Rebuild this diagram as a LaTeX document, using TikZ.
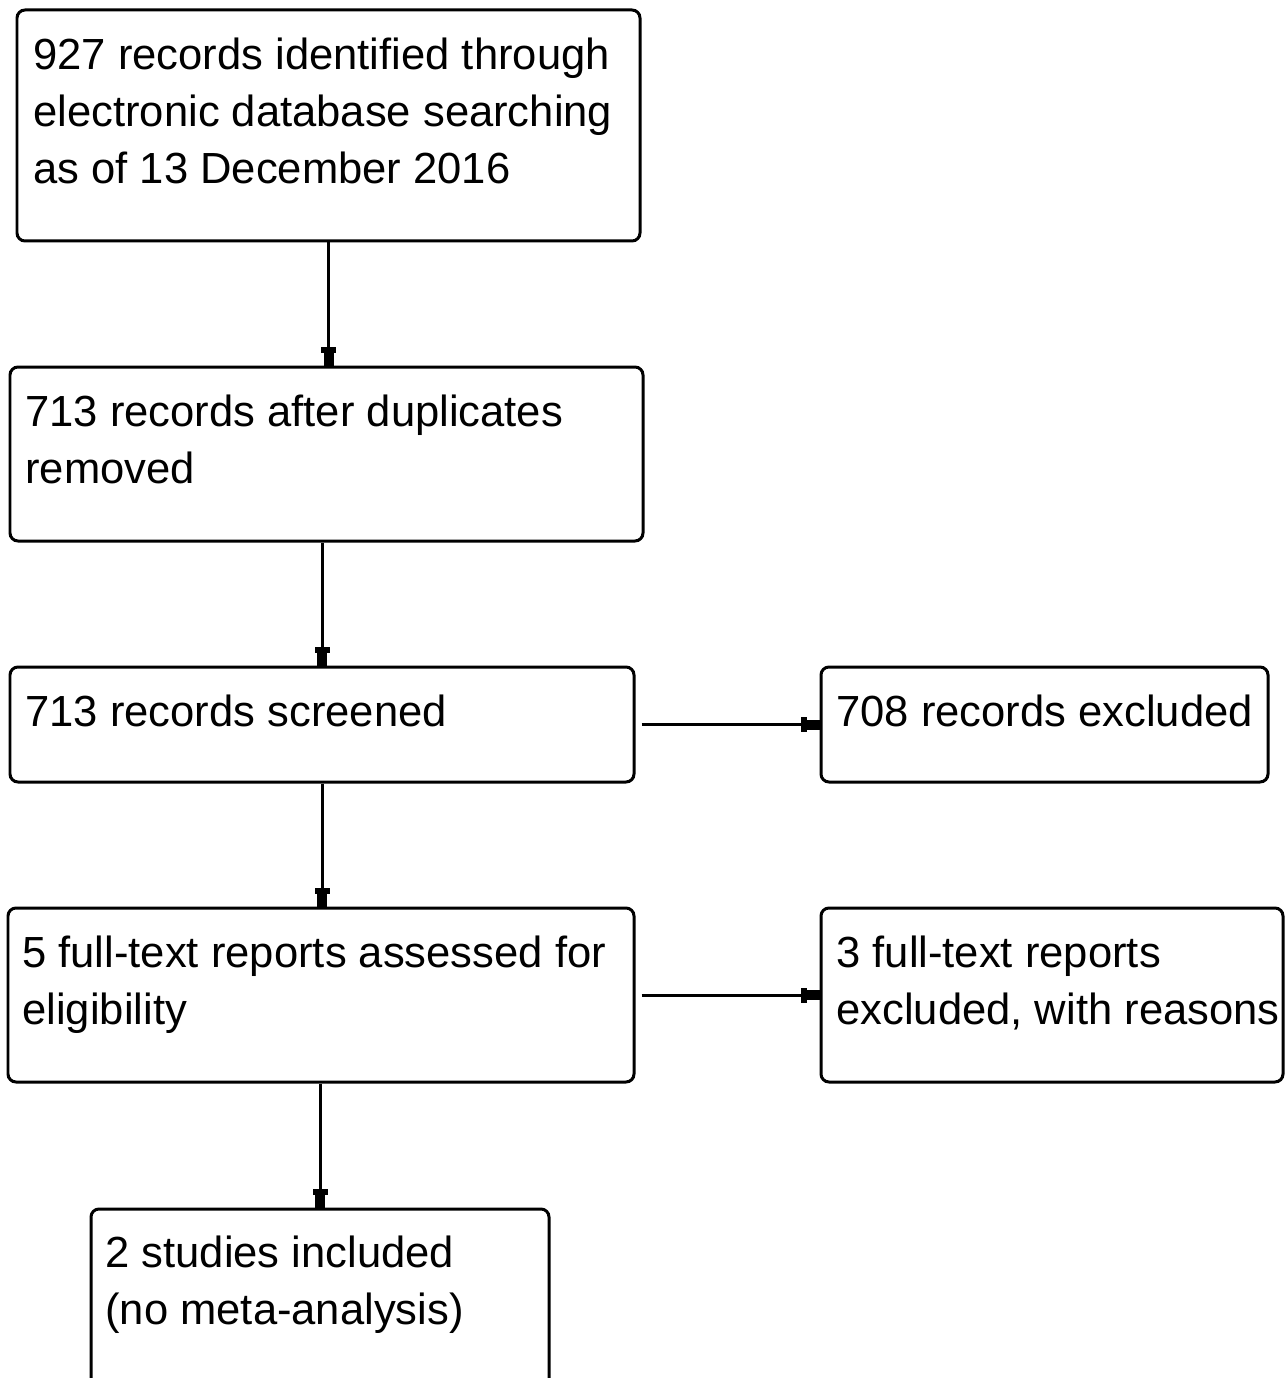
\documentclass[tikz,border=0pt]{standalone}
\usepackage{fontspec}
\setmainfont{Liberation Sans}
\usetikzlibrary{arrows.meta,fit}
\begin{document}
\begin{tikzpicture}[x=0.02cm,y=-0.02cm,
  box/.style={draw, line width=0.06cm, rounded corners=0.16cm, inner sep=0pt},
  txt/.style={anchor=north west, inner sep=0pt, align=left, font=\fontsize{24.8pt}{32.4pt}\selectfont},
  arr/.style={line width=0.06cm, -{Rectangle[length=0.12cm,width=0.3cm]Rectangle[length=0.26cm,width=0.2cm]}}]
\useasboundingbox (0,0) rectangle (1285,1378);
\clip (0,0) rectangle (1285,1378);
\node[box, fit={(17,10) (640,241)}] (b1) {};
\node[box, fit={(10,367) (643,541)}] (b2) {};
\node[box, fit={(10,667) (634,782)}] (b3) {};
\node[box, fit={(8,908) (634,1082)}] (b4) {};
\node[box, fit={(91,1209) (549,1440)}] (b5) {};
\node[box, fit={(821,667) (1268,782)}] (ra) {};
\node[box, fit={(821,908) (1283,1082)}] (rb) {};
\node[txt] (t1) at (33,38) {927 records identified through\\electronic database searching\\as of 13 December 2016};
\node[txt] (t2) at (25,395) {713 records after duplicates\\removed};
\node[txt] (t3) at (25,695) {713 records screened};
\node[txt] (t4) at (22,936) {5 full-text reports assessed for\\eligibility};
\node[txt] (t5) at (105,1236) {2 studies included\\(no meta-analysis)};
\node[txt] (t6) at (836,695) {708 records excluded};
\node[txt] (t7) at (836,936) {3 full-text reports\\excluded, with reasons};
\draw[arr] (b1.south) -- (b1.south |- b2.north);
\draw[arr] (b3.north |- b2.south) -- (b3.north);
\draw[arr] (b3.south) -- (b3.south |- b4.north);
\draw[arr] (b5.north |- b4.south) -- (b5.north);
\draw[arr] ([xshift=0.12cm]b3.east) -- (ra.west);
\draw[arr] ([xshift=0.12cm]b4.east) -- (rb.west);
\end{tikzpicture}
\end{document}
